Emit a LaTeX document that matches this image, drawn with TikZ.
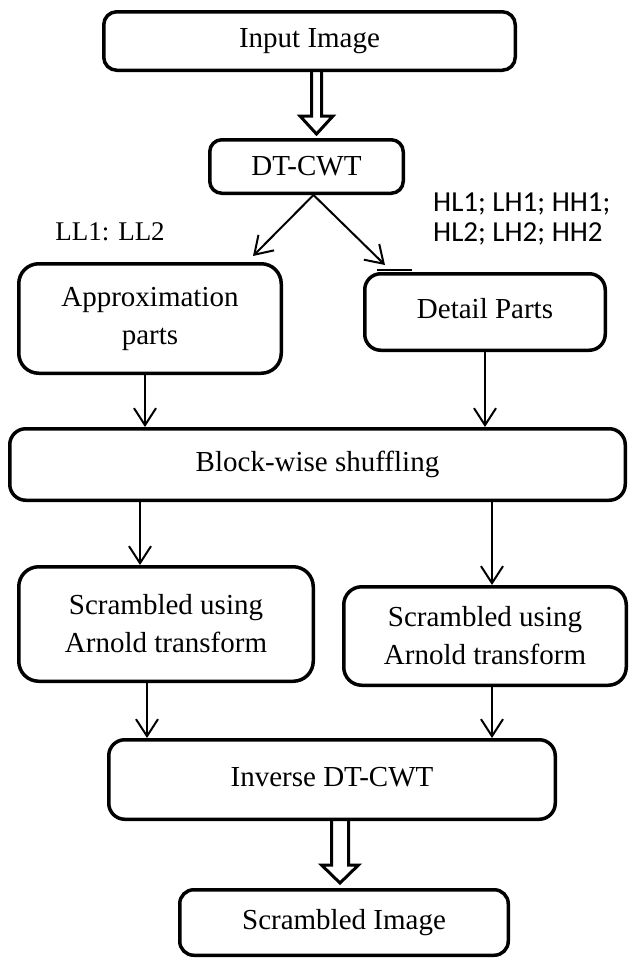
\documentclass[tikz,border=0pt]{standalone}
\usepackage{amsmath}
\usepackage{fontspec}
\setmainfont{Liberation Serif}
\newfontfamily\bandfont{Carlito}
\usetikzlibrary{arrows.meta,calc}

\tikzset{
    box/.style={draw, line width=3.5pt, rounded corners=16pt, align=center, inner sep=0pt},
    arr/.style={line width=2pt, -{Straight Barb[length=17pt,width=22pt]}},
    hollow/.style={line width=3pt, line join=miter}
}

% open block arrow from #1 down to tip #2, shaft half width #3, head half width #4
\newcommand{\hollowarrow}[4]{%
    \draw[hollow] ($(#1)+(-#3,0)$) -- ($(#2)+(-#3,-18)$) -- ($(#2)+(-#4,-18)$) -- (#2)
        -- ($(#2)+(#4,-18)$) -- ($(#2)+(#3,-18)$) -- ($(#1)+(#3,0)$);}

\begin{document}
\begin{tikzpicture}[x=1pt, y=-1pt, font=\fontsize{29}{38}\selectfont]
        \useasboundingbox (0,0) rectangle (630,959);

        \node[box, rounded corners=13pt, minimum width=411.5pt, minimum height=58.5pt] (inp) at (309.5,41) {Input Image};
        \node[box, rounded corners=12pt, minimum width=193.5pt, minimum height=53.5pt] (dtcwt) at (306.5,166.5) {DT-CWT};
        \node[box, rounded corners=20pt, minimum width=262.5pt, minimum height=109.5pt] (approx) at (150,318.5) {Approximation\\parts};
        \node[box, minimum width=240.5pt, minimum height=76.5pt] (detail) at (485,312) {\raisebox{7pt}{Detail Parts}};
        \node[box, minimum width=615.5pt, minimum height=71.5pt] (block) at (317.5,464.5) {\raisebox{6pt}{Block-wise shuffling}};
        \node[box, rounded corners=20pt, minimum width=294.5pt, minimum height=114.5pt] (scrL) at (166,624) {Scrambled using\\Arnold transform};
        \node[box, rounded corners=18pt, minimum width=282.5pt, minimum height=98.5pt] (scrR) at (485,636) {Scrambled using\\Arnold transform};
        \node[box, minimum width=446.5pt, minimum height=79.5pt] (inv) at (332,779.5) {\raisebox{6pt}{Inverse DT-CWT}};
        \node[box, rounded corners=14pt, minimum width=328.5pt, minimum height=65.5pt] (scrImg) at (344,922.5) {Scrambled Image};

        \node[font=\fontsize{27}{32}\selectfont] (lowlab) at (110,232) {LL1: LL2};
        \node[font=\bandfont\fontsize{29}{30}\selectfont, anchor=west, align=left, inner sep=0pt] (highlab) at (433,219) {HL1; LH1; HH1;\\HL2; LH2; HH2};

        \coordinate (in1) at ($(inp.south)+(7,0)$);
        \coordinate (in2) at ($(dtcwt.north)+(10,-4)$);
        \hollowarrow{in1}{in2}{5}{16.5}

        \coordinate (split) at ($(dtcwt.south)+(7,0)$);
        \draw[arr] (split) -- ($(approx.north)+(103,-6)$);
        \draw[arr] (split) -- ($(detail.north)+(-100,-7)$);
        \draw[line width=2.5pt] ($(detail.north west)+(14,-2)$) -- ($(detail.north west)+(49,-2)$);

        \draw[arr] ([xshift=-5pt]approx.south) -- ([xshift=-5pt]approx.south |- block.north);
        \draw[arr] (detail.south) -- (detail.south |- block.north);

        \draw[arr] ([xshift=-26pt]scrL.north |- block.south) -- ([xshift=-26pt]scrL.north);
        \draw[arr] ([xshift=7pt]scrR.north |- block.south) -- ([xshift=7pt]scrR.north);

        \draw[arr] ([xshift=-19pt]scrL.south) -- ([xshift=-19pt]scrL.south |- inv.north);
        \draw[arr] ([xshift=7pt]scrR.south) -- ([xshift=7pt]scrR.south |- inv.north);

        \coordinate (out1) at ($(inv.south)+(8,0)$);
        \coordinate (out2) at ($(scrImg.north)+(-4,-5)$);
        \hollowarrow{out1}{out2}{8.5}{18.5}
    \end{tikzpicture}
\end{document}
